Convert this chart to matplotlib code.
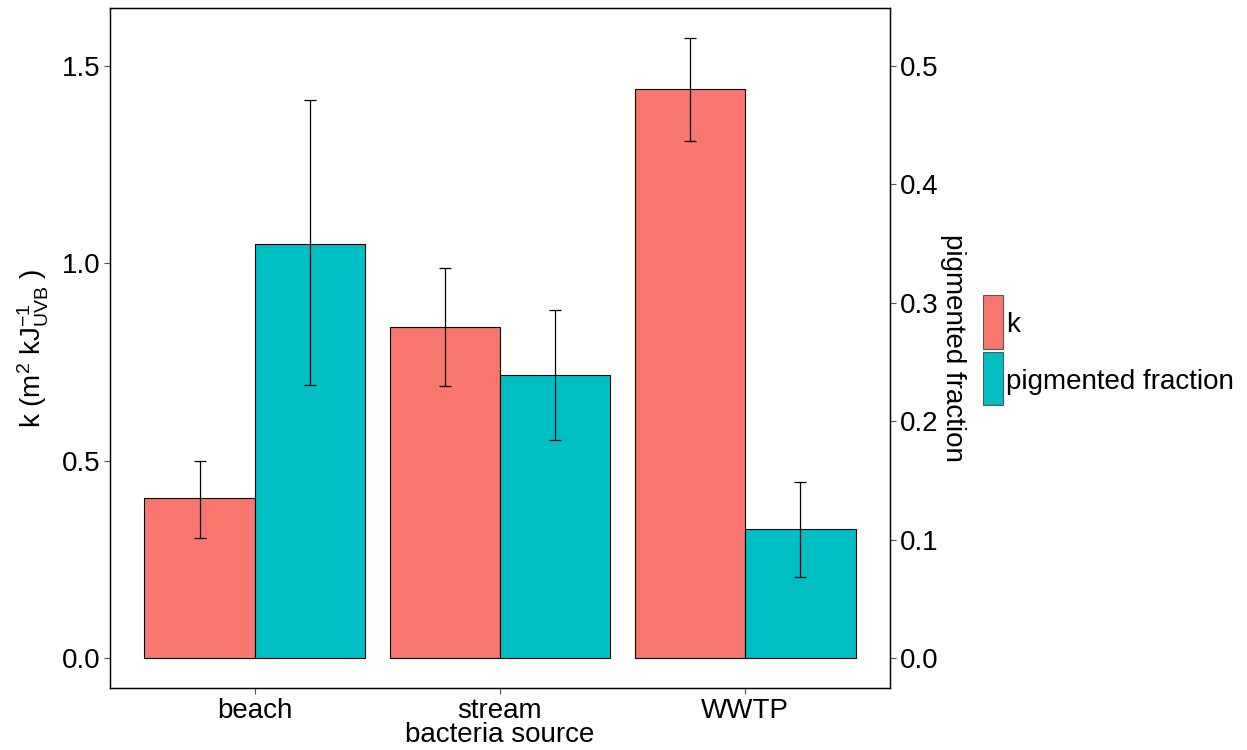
import matplotlib
matplotlib.use("Agg")
import matplotlib.pyplot as plt
from matplotlib.patches import Rectangle
import numpy as np

plt.rcParams['font.family'] = ['Liberation Sans', 'DejaVu Sans']
plt.rcParams['mathtext.fontset'] = 'custom'
plt.rcParams['mathtext.rm'] = 'Liberation Sans'
plt.rcParams['mathtext.it'] = 'Liberation Sans'

categories = ["beach", "stream", "WWTP"]
k_vals = [0.405, 0.839, 1.442]
k_lo = [0.305, 0.690, 1.310]
k_hi = [0.500, 0.988, 1.571]
pig_vals = [0.350, 0.239, 0.109]
pig_lo = [0.231, 0.184, 0.068]
pig_hi = [0.471, 0.294, 0.149]

col_k = "#F8766D"
col_p = "#00BFC4"
FS = 20

fig = plt.figure(figsize=(12.47, 7.5), dpi=100)
ax = fig.add_axes([110/1247, 1-688/750, (890-110)/1247, (688-8)/750])
ax2 = ax.twinx()

x = np.arange(1, len(categories)+1)
w = 0.45
ax.bar(x - w/2, k_vals, width=w, color=col_k, edgecolor="black", linewidth=0.8, zorder=2)
ax.errorbar(x - w/2, k_vals,
            yerr=[np.array(k_vals)-np.array(k_lo), np.array(k_hi)-np.array(k_vals)],
            fmt='none', ecolor='black', elinewidth=0.9, capsize=4.5, capthick=0.9, zorder=3)
ax2.bar(x + w/2, pig_vals, width=w, color=col_p, edgecolor="black", linewidth=0.8, zorder=2)
ax2.errorbar(x + w/2, pig_vals,
             yerr=[np.array(pig_vals)-np.array(pig_lo), np.array(pig_hi)-np.array(pig_vals)],
             fmt='none', ecolor='black', elinewidth=0.9, capsize=4.5, capthick=0.9, zorder=3)

ylo, yhi = -0.076, 1.647
ax.set_ylim(ylo, yhi)
ax2.set_ylim(ylo/3, yhi/3)
ax.set_xlim(0.41, 3.59)
ax.set_xticks(x)
ax.set_xticklabels(categories)
ax.set_yticks([0.0, 0.5, 1.0, 1.5])
ax.set_yticklabels(["0.0", "0.5", "1.0", "1.5"])
ax2.set_yticks([0.0, 0.1, 0.2, 0.3, 0.4, 0.5])
ax2.set_yticklabels(["0.0", "0.1", "0.2", "0.3", "0.4", "0.5"])

for a in (ax, ax2):
    a.tick_params(axis='both', length=4, width=0.8, color='#555555', labelsize=FS, labelcolor='black', pad=3)
    for s in a.spines.values():
        s.set_linewidth(0.9)
        s.set_color('black')

ax.set_ylabel(r"k (m$^2$ kJ$_{\mathrm{UVB}}^{-1}$ )", fontsize=FS, labelpad=8)
ax2.set_ylabel("pigmented fraction", fontsize=FS, rotation=270, labelpad=20)
ax.set_xlabel("bacteria source", fontsize=FS, labelpad=-1)

# legend
fig.add_artist(Rectangle((983/1247, 1-349/750), 20/1247, 54/750, transform=fig.transFigure,
                         facecolor=col_k, edgecolor='#555555', linewidth=0.8))
fig.add_artist(Rectangle((983/1247, 1-405/750), 20/1247, 53/750, transform=fig.transFigure,
                         facecolor=col_p, edgecolor='#555555', linewidth=0.8))
fig.text(1006/1247, 1-325/750, "k", fontsize=FS, va='center', ha='left')
fig.text(1006/1247, 1-382/750, "pigmented fraction", fontsize=FS, va='center', ha='left')

fig.savefig("out.png", dpi=100, facecolor='white')
